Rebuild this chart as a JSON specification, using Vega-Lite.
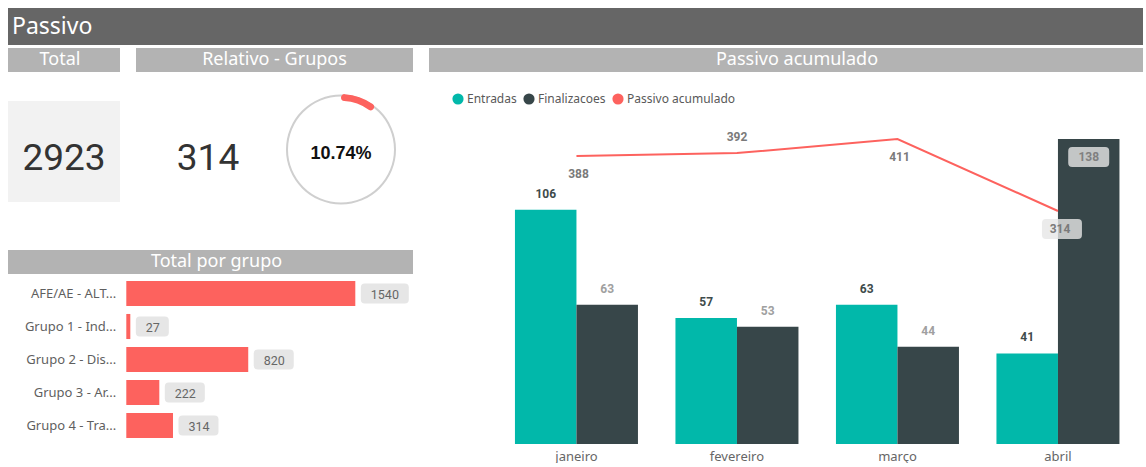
{
  "$schema": "https://vega.github.io/schema/vega-lite/v6.json",
  "padding": {"left": 8, "top": 8, "right": 0, "bottom": 0},
  "config": {"view": {"stroke": null}, "font": "Noto Sans"},
  "spacing": 3,
  "vconcat": [
    {
      "width": 1135, "height": 37,
      "view": {"fill": "#666666", "stroke": null},
      "data": {"values": [{"t": "Passivo"}]},
      "mark": {"type": "text", "align": "left", "baseline": "middle", "dx": 4, "font": "Noto Sans", "fontSize": 23, "color": "#ffffff"},
      "encoding": {
        "x": {"datum": 0, "type": "quantitative", "scale": {"domain": [0, 1]}, "axis": null},
        "text": {"field": "t", "type": "nominal"}
      }
    },
    {
      "spacing": 16,
      "hconcat": [
        {
          "spacing": 22,
          "vconcat": [
            {
              "spacing": 16,
              "bounds": "flush",
              "hconcat": [
                {
                  "width": 112, "height": 24,
                  "view": {"fill": "#b3b3b3", "stroke": null},
                  "data": {"values": [{"t": "Total"}]},
                  "mark": {"type": "text", "baseline": "middle", "dx": -4, "font": "Noto Sans", "fontSize": 18, "color": "#ffffff"},
                  "encoding": {"text": {"field": "t", "type": "nominal"}}
                },
                {
                  "width": 277, "height": 24,
                  "view": {"fill": "#b3b3b3", "stroke": null},
                  "data": {"values": [{"t": "Relativo - Grupos"}]},
                  "mark": {"type": "text", "baseline": "middle", "font": "Noto Sans", "fontSize": 18, "color": "#ffffff"},
                  "encoding": {"text": {"field": "t", "type": "nominal"}}
                }
              ]
            },
            {
              "spacing": 45,
              "vconcat": [
                {
                  "spacing": 16,
                  "bounds": "flush",
                  "hconcat": [
                    {
                      "width": 112, "height": 101,
                      "view": {"fill": "#f2f2f2", "stroke": null},
                      "data": {"values": [{"v": "2923"}]},
                      "mark": {"type": "text", "baseline": "middle", "dy": 7, "font": "Roboto", "fontSize": 37, "color": "#333333"},
                      "encoding": {"text": {"field": "v", "type": "nominal"}}
                    },
                    {
                      "width": 144, "height": 101,
                      "data": {"values": [{"v": "314"}]},
                      "mark": {"type": "text", "baseline": "middle", "dy": 7, "font": "Roboto", "fontSize": 37, "color": "#333333"},
                      "encoding": {"text": {"field": "v", "type": "nominal"}}
                    },
                    {
                      "width": 90, "height": 97,
                      "data": {"values": [{"pct": 0.1074}]},
                      "layer": [
                        {"mark": {"type": "arc", "radius": 55, "radius2": 53, "theta": 0, "theta2": 6.2832, "color": "#cfcfcf"}},
                        {
                          "mark": {"type": "arc", "radius": 55.5, "radius2": 48.5, "cornerRadius": 3.5, "color": "#fd625e"},
                          "encoding": {"theta": {"field": "pct", "type": "quantitative", "scale": {"domain": [0, 1], "range": [0, 6.2832]}}}
                        },
                        {
                          "mark": {"type": "text", "baseline": "middle", "dy": 4, "font": "Liberation Sans", "fontSize": 18, "fontWeight": "bold", "color": "#111111"},
                          "encoding": {"text": {"field": "pct", "type": "quantitative", "format": ".2%"}}
                        }
                      ]
                    }
                  ]
                },
                {
                  "spacing": 3,
                  "bounds": "flush",
                  "vconcat": [
                    {
                      "width": 405, "height": 24,
                      "view": {"fill": "#b3b3b3", "stroke": null},
                      "data": {"values": [{"t": "Total por grupo"}]},
                      "mark": {"type": "text", "baseline": "middle", "dx": 6, "font": "Noto Sans", "fontSize": 18, "color": "#ffffff"},
                      "encoding": {"text": {"field": "t", "type": "nominal"}}
                    },
                    {
                      "width": 405, "height": 165,
                      "data": {"values": [
                        {"grupo": "AFE/AE - ALT...", "total": 1540},
                        {"grupo": "Grupo 1 - Ind...", "total": 27},
                        {"grupo": "Grupo 2 - Dis...", "total": 820},
                        {"grupo": "Grupo 3 - Ar...", "total": 222},
                        {"grupo": "Grupo 4 - Tra...", "total": 314}
                      ]},
                      "encoding": {
                        "y": {"field": "grupo", "type": "nominal", "sort": null, "axis": null, "scale": {"paddingInner": 0.24, "paddingOuter": 0.12}},
                        "x": {"field": "total", "type": "quantitative", "axis": null, "scale": {"domain": [0, 1928], "range": [118.3, 405], "nice": false}}
                      },
                      "layer": [
                        {"mark": {"type": "bar", "color": "#fd625e"}},
                        {
                          "mark": {"type": "point", "filled": true, "opacity": 1, "size": 400, "strokeWidth": 0, "color": "#e6e6e6", "xOffset": 5.5},
                          "encoding": {
                            "shape": {
                              "condition": [
                                {"test": "datum.total >= 1000", "value": "M0.4,-1H4.4Q4.8,-1 4.8,-0.6V0.6Q4.8,1 4.4,1H0.4Q0,1 0,0.6V-0.6Q0,-1 0.4,-1Z"},
                                {"test": "datum.total < 100", "value": "M0.4,-1H2.9Q3.3,-1 3.3,-0.6V0.6Q3.3,1 2.9,1H0.4Q0,1 0,0.6V-0.6Q0,-1 0.4,-1Z"}
                              ],
                              "value": "M0.4,-1H3.6Q4,-1 4,-0.6V0.6Q4,1 3.6,1H0.4Q0,1 0,0.6V-0.6Q0,-1 0.4,-1Z"
                            }
                          }
                        },
                        {
                          "mark": {"type": "text", "align": "left", "baseline": "middle", "dx": 15.5, "dy": 1, "font": "Roboto", "fontSize": 12.5, "color": "#666666"},
                          "encoding": {"text": {"field": "total", "type": "nominal"}}
                        },
                        {
                          "mark": {"type": "text", "align": "right", "baseline": "middle", "dx": -10, "font": "Noto Sans", "fontSize": 13, "color": "#5f5f5f"},
                          "encoding": {
                            "x": {"datum": 0, "type": "quantitative"},
                            "text": {"field": "grupo", "type": "nominal"}
                          }
                        }
                      ]
                    }
                  ]
                }
              ]
            }
          ]
        },
        {
          "spacing": 67,
          "bounds": "flush",
          "vconcat": [
            {
              "width": 714, "height": 24,
              "view": {"fill": "#b3b3b3", "stroke": null},
              "data": {"values": [{"t": "Passivo acumulado"}]},
              "mark": {"type": "text", "baseline": "middle", "dx": 11, "font": "Noto Sans", "fontSize": 18, "color": "#ffffff"},
              "encoding": {"text": {"field": "t", "type": "nominal"}}
            },
            {
              "width": 714, "height": 305,
              "data": {"values": [
                {"mes": "janeiro", "Entradas": 106, "Finalizacoes": 63, "Passivo acumulado": 388},
                {"mes": "fevereiro", "Entradas": 57, "Finalizacoes": 53, "Passivo acumulado": 392},
                {"mes": "março", "Entradas": 63, "Finalizacoes": 44, "Passivo acumulado": 411},
                {"mes": "abril", "Entradas": 41, "Finalizacoes": 138, "Passivo acumulado": 314}
              ]},
              "encoding": {
                "x": {
                  "field": "mes", "type": "nominal",
                  "sort": ["janeiro", "fevereiro", "março", "abril"],
                  "scale": {"paddingInner": 0.2336, "paddingOuter": 0.3411, "align": 0.785},
                  "axis": {"title": null, "domain": false, "ticks": false, "tickSize": 0, "labelAngle": 0, "labelFont": "Noto Sans", "labelFontSize": 13, "labelColor": "#666666", "labelPadding": 6}
                }
              },
              "layer": [
                {
                  "transform": [{"fold": ["Entradas", "Finalizacoes"], "as": ["serie", "valor"]}],
                  "encoding": {
                    "y": {"field": "valor", "type": "quantitative", "axis": null, "scale": {"nice": false}},
                    "xOffset": {"field": "serie", "type": "nominal", "scale": {"paddingInner": 0, "paddingOuter": 0}}
                  },
                  "layer": [
                    {
                      "mark": {"type": "bar"},
                      "encoding": {
                        "color": {
                          "field": "serie", "type": "nominal",
                          "scale": {"domain": ["Entradas", "Finalizacoes", "Passivo acumulado"], "range": ["#01b8aa", "#374649", "#fd625e"]},
                          "legend": {
                            "orient": "none", "legendX": 444, "legendY": 85, "direction": "horizontal", "title": null,
                            "symbolType": "circle", "symbolSize": 125, "symbolStrokeWidth": 0, "symbolOpacity": 1,
                            "labelFont": "Noto Sans", "labelFontSize": 12, "labelColor": "#595959", "labelOffset": 3, "columnPadding": 6
                          }
                        }
                      }
                    },
                    {
                      "transform": [{"filter": "!(datum.serie == 'Finalizacoes' && datum.mes == 'abril')"}],
                      "mark": {"type": "text", "baseline": "middle", "dy": -16, "font": "Roboto", "fontSize": 12, "fontWeight": "bold"},
                      "encoding": {
                        "text": {"field": "valor", "type": "nominal"},
                        "color": {"condition": {"test": "datum.serie == 'Entradas'", "value": "#3e4b4b"}, "value": "#a0a0a0"}
                      }
                    },
                    {
                      "transform": [{"filter": "datum.serie == 'Finalizacoes' && datum.mes == 'abril'"}],
                      "mark": {"type": "point", "filled": true, "opacity": 0.8, "size": 400, "strokeWidth": 0, "color": "#e6e6e6", "yOffset": 18,
                        "shape": "M-1.65,-1H1.65Q2.05,-1 2.05,-0.6V0.6Q2.05,1 1.65,1H-1.65Q-2.05,1 -2.05,0.6V-0.6Q-2.05,-1 -1.65,-1Z"}
                    },
                    {
                      "transform": [{"filter": "datum.serie == 'Finalizacoes' && datum.mes == 'abril'"}],
                      "mark": {"type": "text", "baseline": "middle", "dy": 18, "font": "Roboto", "fontSize": 12, "fontWeight": "bold", "color": "#808080"},
                      "encoding": {"text": {"field": "valor", "type": "nominal"}}
                    }
                  ]
                },
                {
                  "encoding": {
                    "y": {"field": "Passivo acumulado", "type": "quantitative", "axis": null, "scale": {"nice": false}}
                  },
                  "layer": [
                    {"mark": {"type": "line", "color": "#fd625e", "strokeWidth": 2}},
                    {
                      "transform": [{"filter": "datum.mes == 'abril'"}],
                      "mark": {"type": "point", "filled": true, "opacity": 0.8, "size": 400, "strokeWidth": 0, "color": "#e6e6e6", "xOffset": 4, "yOffset": 18,
                        "shape": "M-1.6,-1H1.6Q2,-1 2,-0.6V0.6Q2,1 1.6,1H-1.6Q-2,1 -2,0.6V-0.6Q-2,-1 -1.6,-1Z"}
                    },
                    {
                      "transform": [{"filter": "datum.mes == 'fevereiro'"}],
                      "mark": {"type": "text", "baseline": "middle", "dy": -16, "font": "Roboto", "fontSize": 12, "fontWeight": "bold", "color": "#7a7a7a"},
                      "encoding": {"text": {"field": "Passivo acumulado", "type": "nominal"}}
                    },
                    {
                      "transform": [{"filter": "datum.mes != 'fevereiro'"}],
                      "mark": {"type": "text", "baseline": "middle", "dy": 18, "dx": 2, "font": "Roboto", "fontSize": 12, "fontWeight": "bold", "color": "#7a7a7a"},
                      "encoding": {"text": {"field": "Passivo acumulado", "type": "nominal"}}
                    }
                  ]
                }
              ],
              "resolve": {"scale": {"y": "independent"}}
            }
          ]
        }
      ]
    }
  ]
}
